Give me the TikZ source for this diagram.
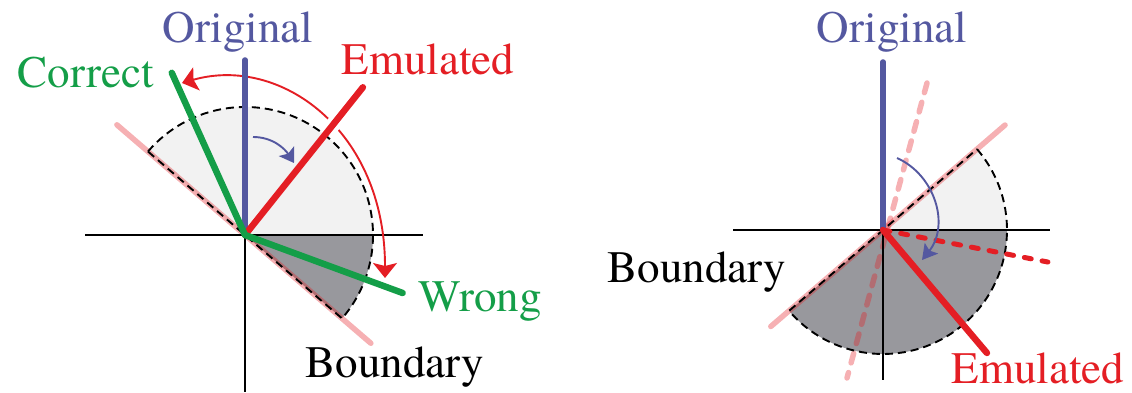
\documentclass[tikz,border=0pt]{standalone}
\usepackage{fontspec}
\setmainfont{TeX Gyre Termes}
\usepackage{tikz}
\usetikzlibrary{arrows.meta, calc}

\definecolor{blu}{RGB}{84,88,160}
\definecolor{rosso}{RGB}{228,30,36}
\definecolor{verde}{RGB}{20,158,72}
\definecolor{grigiochiaro}{RGB}{242,242,242}
\definecolor{grigioscuro}{RGB}{152,152,157}

\begin{document}
\begin{tikzpicture}[
        x=1pt, y=1pt,
        % Stili per assi, semirette e settori
        asse/.style={black, line width=1.5pt},
        bordo/.style={rosso, opacity=0.35, line width=5.5pt, line cap=round},
        settore/.style={black, dash pattern=on 8pt off 5pt, line width=1.9pt},
        raggio/.style={line width=6.5pt, line cap=round},
        freccia/.style={line width=1.9pt},
        etichetta/.style={anchor=base, inner sep=0pt, font=\fontsize{45}{54}\selectfont},
        >=Stealth,
    ]

    \useasboundingbox (0,0) rectangle (1132,393);

    % origini
    \coordinate (L) at (245,158);
    \coordinate (R) at (883,163);

    % punti del disegno di sinistra
    \coordinate (origL) at ($(L)+(90:175)$);
    \coordinate (emuL) at ($(L)+(51.4:189)$);
    \coordinate (corr) at ($(L)+(114.3:178)$);
    \coordinate (wrong) at ($(L)+(-20.2:168)$);
    \coordinate (bordoLa) at ($(L)+(139.3:169)$);
    \coordinate (bordoLb) at ($(L)+(-40.7:166)$);

    % punti del disegno di destra
    \coordinate (origR) at ($(R)+(90:168)$);
    \coordinate (emuR) at ($(R)+(-49.8:161)$);
    \coordinate (tratR) at ($(R)+(-11:168)$);
    \coordinate (bordoRa) at ($(R)+(40.7:161)$);
    \coordinate (bordoRb) at ($(R)+(220.7:148)$);
    \coordinate (rosaRa) at ($(R)+(44,147)$);
    \coordinate (rosaRb) at ($(R)+(-36,-148)$);

    % settori di sinistra
    \fill[grigiochiaro] (L) -- ++(0:128) arc[start angle=0, end angle=139.3, radius=128] -- cycle;
    \fill[grigioscuro] (L) -- ++(-40.7:128) arc[start angle=-40.7, end angle=0, radius=128] -- cycle;
    \draw[bordo] (bordoLa) -- (bordoLb);
    \draw[settore] (L) ++(139.3:128) arc[start angle=139.3, end angle=-40.7, radius=128] -- cycle;
    \draw[asse] ($(L)+(-160,0)$) -- ($(L)+(178,0)$);
    \draw[asse] (L) -- ($(L)+(0,-157)$);

    % freccia rossa con interruzione
    \draw[freccia, rosso, {Stealth[length=15pt, width=24pt, inset=3pt]}-{Stealth[length=15pt, width=24pt, inset=3pt]}]
        ($(L)+(-63,152)$) .. controls ($(L)+(35,180)$) and ($(L)+(140,105)$) .. ($(L)+(140,-43)$);
    \draw[white, line width=15pt] ($(L)+(51.4:135)$) -- ($(L)+(51.4:162)$);

    \draw[raggio, blu, line width=5.5pt] (L) -- (origL);
    \draw[raggio, rosso] (L) -- (emuL);
    \draw[raggio, verde] (L) -- (corr);
    \draw[raggio, verde] (L) -- (wrong);
    \draw[freccia, blu, -{Stealth[length=14pt, width=18pt, inset=3pt]}]
        ($(L)+(8,98)$) .. controls ($(L)+(28,98)$) and ($(L)+(40,86)$) .. ($(L)+(49,72)$);

    % settori di destra
    \fill[grigiochiaro] (R) -- ++(0:124) arc[start angle=0, end angle=40.7, radius=124] -- cycle;
    \fill[grigioscuro] (R) -- ++(-139.3:124) arc[start angle=-139.3, end angle=0, radius=124] -- cycle;
    \draw[bordo] (bordoRa) -- (bordoRb);
    \draw[bordo, dash pattern=on 10pt off 10pt] (rosaRa) -- (rosaRb);
    \draw[settore] (R) ++(40.7:124) arc[start angle=40.7, end angle=-139.3, radius=124] -- cycle;
    \draw[asse] ($(R)+(-150,0)$) -- ($(R)+(167,0)$);
    \draw[asse] (R) -- ($(R)+(0,-150)$);

    \draw[raggio, blu, line width=5.5pt] (R) -- (origR);
    \draw[raggio, rosso, line width=5pt, dash pattern=on 7pt off 11pt] (R) -- (tratR);
    \draw[raggio, rosso] (R) -- (emuR);
    \draw[freccia, blu, -{Stealth[length=15pt, width=17pt, inset=3pt]}]
        ($(R)+(14,72)$) .. controls ($(R)+(52,55)$) and ($(R)+(67,5)$) .. ($(R)+(39,-30)$);

    % etichette
    \node[etichetta, blu] (lblOrigL) at (238,350) {Original};
    \node[etichetta, rosso] (lblEmuL) at (428,318) {Emulated};
    \node[etichetta, verde] (lblCorr) at (86,305) {Correct};
    \node[etichetta, verde] (lblWrong) at (480,81) {Wrong};
    \node[etichetta] (lblBordoL) at (395,15) {Boundary};

    \node[etichetta, blu] (lblOrigR) at (892,350) {Original};
    \node[etichetta] (lblBordoR) at (697,110) {Boundary};
    \node[etichetta, rosso] (lblEmuR) at (1038,9) {Emulated};

\end{tikzpicture}
\end{document}
